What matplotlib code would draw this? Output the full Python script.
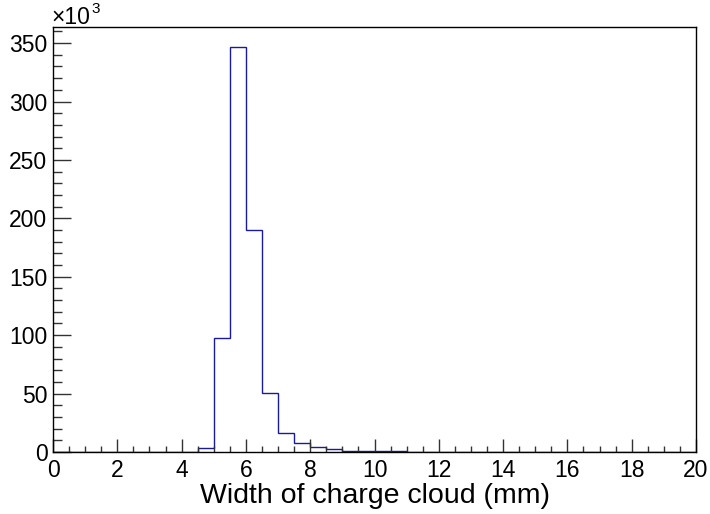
import numpy as np
import matplotlib
matplotlib.use("Agg")
import matplotlib.pyplot as plt
from matplotlib.ticker import MultipleLocator, FuncFormatter

plt.rcParams['font.family'] = ['Liberation Sans', 'DejaVu Sans']

# Histogram of charge-cloud width: 40 bins of 0.5 mm from 0 to 20 mm
bin_edges = np.linspace(0.0, 20.0, 41)
counts_k = [0, 0, 0, 0, 0, 0, 0, 0, 0.3, 3.4,
            97.5, 346.5, 190.0, 50.2, 16.5, 7.4, 4.0, 2.3, 1.2, 1.0,
            0.8, 0.5, 0, 0, 0, 0, 0, 0, 0, 0,
            0, 0, 0, 0, 0, 0, 0, 0, 0, 0]
x_label = "Width of charge cloud (mm)"
y_max_k = 363.8

fig = plt.figure(figsize=(7.1, 5.14), dpi=100)
ax = fig.add_axes([53 / 710, 1 - 452 / 514, (696 - 53) / 710, (452 - 27) / 514])

counts = np.array(counts_k) * 1000.0
ax.stairs(counts, bin_edges, color='#1a1aa0', linewidth=1.0, baseline=None)

ax.set_xlim(0, 20)
ax.set_ylim(0, y_max_k * 1000.0)

ax.xaxis.set_major_locator(MultipleLocator(2))
ax.xaxis.set_minor_locator(MultipleLocator(0.5))
ax.yaxis.set_major_locator(MultipleLocator(50000))
ax.yaxis.set_minor_locator(MultipleLocator(10000))
ax.yaxis.set_major_formatter(FuncFormatter(lambda v, p: f"{v / 1000:g}"))

ax.tick_params(axis='both', which='both', direction='in', top=False, right=False,
               width=1.0, color='#333333')
ax.tick_params(axis='x', which='major', length=9.5, pad=5, labelsize=16.5)
ax.tick_params(axis='x', which='minor', length=4.6)
ax.tick_params(axis='y', which='major', length=13, pad=4, labelsize=16.5)
ax.tick_params(axis='y', which='minor', length=6.5)

for s in ax.spines.values():
    s.set_linewidth(1.0)
    s.set_color('black')

ax.set_xlabel(x_label, fontsize=20.5, labelpad=1)

fig.text(51 / 710, 1 - 24 / 514, "×10", fontsize=16.5, ha='left', va='baseline')
fig.text(91 / 710, 1 - 13 / 514, "3", fontsize=11, ha='left', va='baseline')

fig.savefig("out.png", dpi=100)
